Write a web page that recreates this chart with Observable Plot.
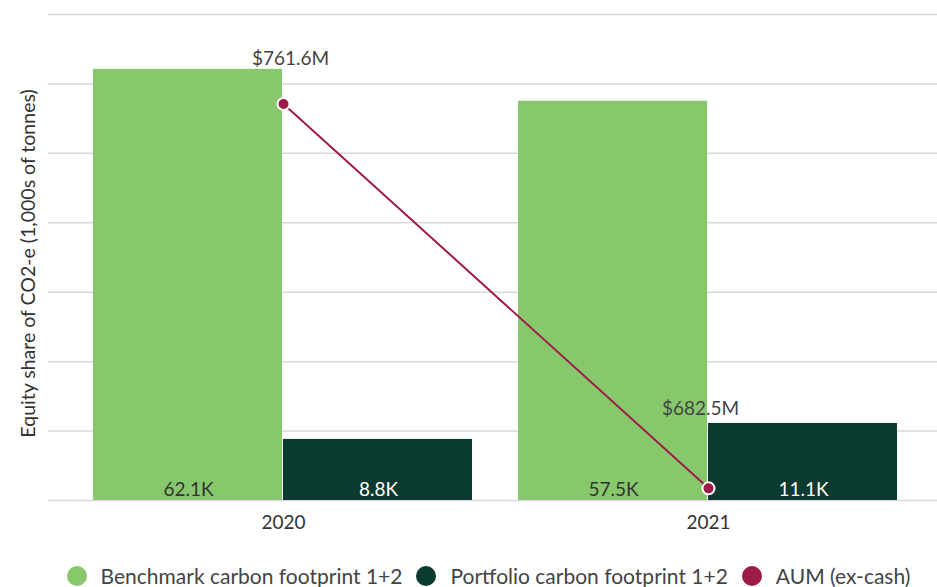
<!DOCTYPE html>
<html>
<head>
<meta charset="utf-8">
<script src="https://cdn.jsdelivr.net/npm/d3@7"></script>
<script src="https://cdn.jsdelivr.net/npm/@observablehq/plot@0.6"></script>
<style>
  html, body { margin: 0; padding: 0; background: #fff; }
  #chart { width: 937px; font-family: Lato, "Open Sans", sans-serif; }
  .legend { display: flex; justify-content: center; align-items: center; height: 37px; box-sizing: border-box; padding-top: 14px; padding-left: 40px; font-size: 21px; color: #444; }
  .legend .item { display: flex; align-items: center; margin: 0 7px; }
  .legend .sw { width: 20px; height: 20px; border-radius: 50%; margin-right: 14px; }
</style>
</head>
<body>
<div id="chart"></div>
<script>
const years = [2020, 2021];
const benchmark = [62.1, 57.5];      // thousands of tonnes
const portfolio = [8.8, 11.1];       // thousands of tonnes
const aum = [761.6, 682.5];          // $M
const benchLabels = ["62.1K", "57.5K"];
const portLabels = ["8.8K", "11.1K"];
const aumLabels = ["$761.6M", "$682.5M"];
const yTicks = [0, 10, 20, 30, 40, 50, 60, 70];
const seriesNames = ["Benchmark carbon footprint 1+2", "Portfolio carbon footprint 1+2", "AUM (ex-cash)"];
const colors = ["#88c86c", "#0a3a30", "#9e1a48"];

const barW = 0.447; // bar width in year units
const bars = [];
years.forEach((y, i) => {
  bars.push({year: y, series: seriesNames[0], value: benchmark[i], label: benchLabels[i], side: -1});
  bars.push({year: y, series: seriesNames[1], value: portfolio[i], label: portLabels[i], side: 1});
});
const aumData = years.map((y, i) => ({year: y, aum: aum[i], label: aumLabels[i], i}));
// secondary axis mapping AUM ($M) onto the CO2 axis
const aumScale = d3.scaleLinear([680, 780], [0, 70]);

const plot = Plot.plot({
  width: 937,
  height: 550,
  marginTop: 14,
  marginBottom: 50,
  marginLeft: 48,
  marginRight: 0,
  style: {fontFamily: "Lato, 'Open Sans', sans-serif", color: "#333"},
  x: {type: "linear", domain: [2020, 2021], range: [283, 708], axis: null},
  y: {domain: [0, 70], axis: null},
  color: {domain: seriesNames, range: colors},
  marks: [
    Plot.ruleY(yTicks, {stroke: "#d9d9d9", strokeWidth: 1.5}),
    Plot.rectY(bars, {
      x1: d => d.side < 0 ? d.year - barW : d.year,
      x2: d => d.side < 0 ? d.year : d.year + barW,
      y1: 0,
      y2: "value",
      fill: "series",
      insetRight: 1
    }),
    Plot.text(bars, {
      x: d => d.year + d.side * barW / 2,
      y: 0,
      text: "label",
      fill: d => d.side < 0 ? "#333" : "#fff",
      fontSize: 19,
      dy: -11
    }),
    Plot.line(aumData, {x: "year", y: d => aumScale(d.aum), stroke: colors[2], strokeWidth: 2}),
    Plot.dot(aumData, {x: "year", y: d => aumScale(d.aum), r: 6, fill: colors[2], stroke: "#fff", strokeWidth: 2}),
    Plot.text(aumData.filter(d => d.i === 0), {x: "year", y: d => aumScale(d.aum), text: "label", fontSize: 19, fill: "#444", dy: -45, dx: 7}),
    Plot.text(aumData.filter(d => d.i === 1), {x: "year", y: d => aumScale(d.aum), text: "label", fontSize: 19, fill: "#444", dy: -79, dx: -8}),
    Plot.text(years, {x: d => d, y: 0, text: d => String(d), fontSize: 19, fill: "#333", dy: 22}),
    Plot.text([seriesNames[0]], {frameAnchor: "left", textAnchor: "middle", text: () => "Equity share of CO2-e (1,000s of tonnes)", rotate: -90, dx: -20, dy: 6, fontSize: 19.5, fill: "#333"})
  ]
});

const chart = document.getElementById("chart");
chart.appendChild(plot);
const legend = document.createElement("div");
legend.className = "legend";
seriesNames.forEach((n, i) => {
  const it = document.createElement("div");
  it.className = "item";
  const sw = document.createElement("span");
  sw.className = "sw";
  sw.style.background = colors[i];
  const t = document.createElement("span");
  t.textContent = n;
  it.appendChild(sw); it.appendChild(t);
  legend.appendChild(it);
});
chart.appendChild(legend);
</script>
</body>
</html>
